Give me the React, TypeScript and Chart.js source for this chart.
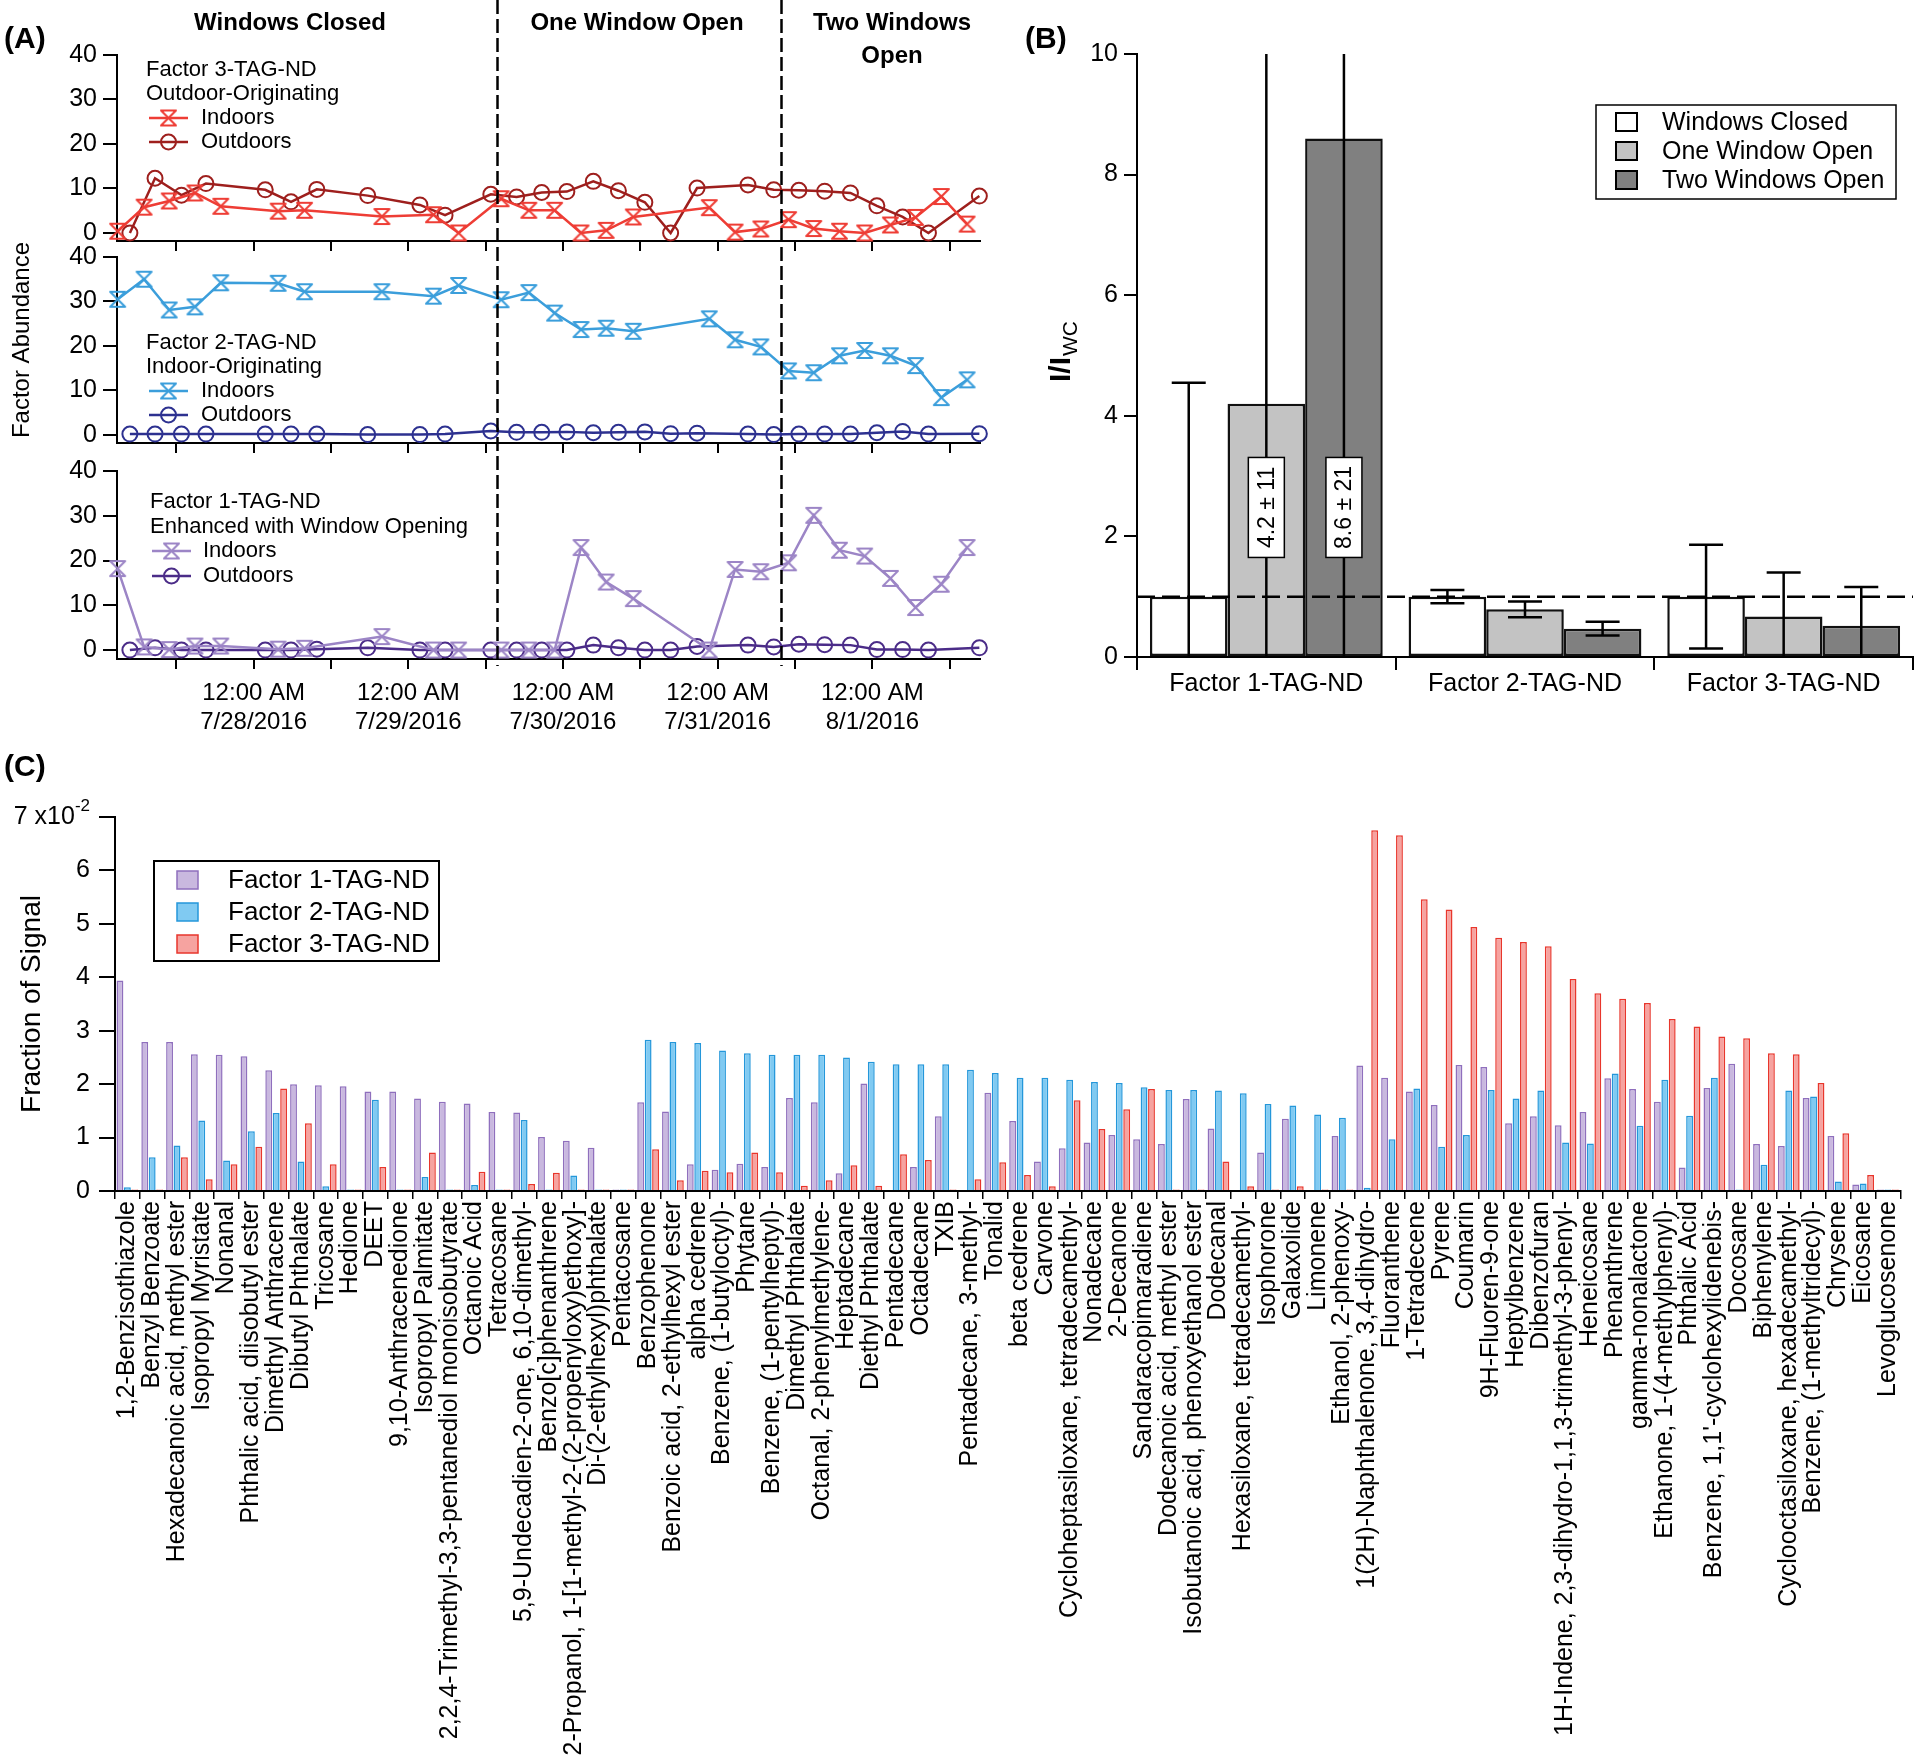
import React, { useEffect, useRef } from 'react';
import { Chart, registerables } from 'chart.js';

Chart.register(...registerables);

const FONT = '"Liberation Sans", Arial, Helvetica, sans-serif';

// ---------------- Panel A data (x = hours since 7/27/2016 00:00) ----------------
const A_TICK_HOURS = [12, 24, 36, 48, 60, 72, 84, 96, 108, 120, 132];
const A_LABEL_HOURS = [24, 48, 72, 96, 120];
const A_LABEL_DATES = ['7/28/2016', '7/29/2016', '7/30/2016', '7/31/2016', '8/1/2016'];
const A_PERIOD_BREAKS = [61.8, 105.9];
const A_X_MIN = 2.8;
const A_X_MAX = 136.7;

const INDOOR_HOURS = [2.9, 7.0, 10.9, 14.9, 18.9, 27.8, 31.9, 43.9, 51.9, 55.8, 62.4, 66.7, 70.7, 74.8, 78.7, 82.9, 94.7, 98.7, 102.7, 107.0, 110.9, 114.9, 118.8, 122.8, 126.7, 130.7, 134.7];
const OUTDOOR_HOURS = [4.8, 8.7, 12.8, 16.6, 25.8, 29.8, 33.8, 41.7, 49.8, 53.7, 60.8, 64.8, 68.7, 72.6, 76.7, 80.6, 84.7, 88.7, 92.8, 100.7, 104.7, 108.6, 112.6, 116.6, 120.7, 124.7, 128.7, 136.6];

const F3_INDOOR = [0.4, 5.8, 7.2, 9.0, 6.0, 4.9, 5.1, 3.7, 4.1, 0, 7.7, 5.1, 5.1, 0, 0.6, 3.6, 5.7, 0.2, 0.9, 3.0, 1.0, 0.4, 0, 1.8, 3.5, 8.2, 2.0];
const F3_OUTDOOR = [0, 12.3, 8.5, 11.1, 9.7, 7.0, 9.8, 8.4, 6.3, 4.0, 8.7, 8.1, 9.1, 9.3, 11.6, 9.5, 6.9, 0, 10.1, 10.8, 9.7, 9.6, 9.4, 9.0, 6.1, 3.6, 0, 8.3];
const F2_INDOOR = [30.5, 35.0, 28.1, 28.8, 34.2, 34.1, 32.2, 32.2, 31.2, 33.6, 30.4, 32.0, 27.4, 23.7, 24.0, 23.3, 26.1, 21.4, 19.8, 14.4, 14.0, 17.8, 19.0, 17.8, 15.6, 8.4, 12.4];
const F2_OUTDOOR = [0.2, 0.2, 0.2, 0.2, 0.2, 0.2, 0.2, 0.1, 0.1, 0.2, 0.9, 0.6, 0.6, 0.7, 0.5, 0.6, 0.7, 0.3, 0.4, 0.2, 0.1, 0.2, 0.2, 0.2, 0.5, 0.8, 0.2, 0.3];
const F1_INDOOR = [18.2, 0.7, 0.1, 0.9, 0.9, 0.2, 0.4, 3.0, 0, 0, 0, 0, 0, 22.9, 15.2, 11.5, 0, 18.0, 17.5, 19.5, 30.1, 22.3, 21.0, 16.0, 9.5, 14.7, 22.9];
const F1_OUTDOOR = [0, 0.5, 0, 0, 0, 0, 0.2, 0.5, 0, 0, 0, 0, 0, 0, 1.1, 0.5, 0, 0, 0.8, 1.1, 0.7, 1.3, 1.2, 1.1, 0.1, 0.1, 0, 0.5];

// ---------------- Panel B data ----------------
const B_GROUPS = ['Factor 1-TAG-ND', 'Factor 2-TAG-ND', 'Factor 3-TAG-ND'];
const B_SERIES = ['Windows Closed', 'One Window Open', 'Two Windows Open'];
const B_WC = [1, 1, 1];
const B_OWO = [4.2, 0.79, 0.67];
const B_TWO = [8.6, 0.47, 0.52];
const B_WC_ERR = [3.55, 0.11, 0.86];
const B_OWO_ERR = [11, 0.13, 0.73];
const B_TWO_ERR = [21, 0.115, 0.64];
const B_BOX_TEXT = ['4.2 ± 11', '8.6 ± 21'];

// ---------------- Panel C data (fraction of signal, units of 1e-2) ----------------
const C_COMPOUNDS = [
  '1,2-Benzisothiazole', 'Benzyl Benzoate', 'Hexadecanoic acid, methyl ester', 'Isopropyl Myristate', 'Nonanal',
  'Phthalic acid, diisobutyl ester', 'Dimethyl Anthracene', 'Dibutyl Phthalate', 'Tricosane', 'Hedione', 'DEET',
  '9,10-Anthracenedione', 'Isopropyl Palmitate', '2,2,4-Trimethyl-3,3-pentanediol monoisobutyrate', 'Octanoic Acid',
  'Tetracosane', '5,9-Undecadien-2-one, 6,10-dimethyl-', 'Benzo[c]phenanthrene',
  '2-Propanol, 1-[1-methyl-2-(2-propenyloxy)ethoxy]-', 'Di-(2-ethylhexyl)phthalate', 'Pentacosane', 'Benzophenone',
  'Benzoic acid, 2-ethylhexyl ester', 'alpha cedrene', 'Benzene, (1-butyloctyl)-', 'Phytane',
  'Benzene, (1-pentylheptyl)-', 'Dimethyl Phthalate', 'Octanal, 2-phenylmethylene-', 'Heptadecane',
  'Diethyl Phthalate', 'Pentadecane', 'Octadecane', 'TXIB', 'Pentadecane, 3-methyl-', 'Tonalid', 'beta cedrene',
  'Carvone', 'Cycloheptasiloxane, tetradecamethyl-', 'Nonadecane', '2-Decanone', 'Sandaracopimaradiene',
  'Dodecanoic acid, methyl ester', 'Isobutanoic acid, phenoxyethanol ester', 'Dodecanal',
  'Hexasiloxane, tetradecamethyl-', 'Isophorone', 'Galaxolide', 'Limonene', 'Ethanol, 2-phenoxy-',
  '1(2H)-Naphthalenone, 3,4-dihydro-', 'Fluoranthene', '1-Tetradecene', 'Pyrene', 'Coumarin', '9H-Fluoren-9-one',
  'Heptylbenzene', 'Dibenzofuran', '1H-Indene, 2,3-dihydro-1,1,3-trimethyl-3-phenyl-', 'Heneicosane',
  'Phenanthrene', 'gamma-nonalactone', 'Ethanone, 1-(4-methylphenyl)-', 'Phthalic Acid',
  "Benzene, 1,1'-cyclohexylidenebis-", 'Docosane', 'Biphenylene', 'Cyclooctasiloxane, hexadecamethyl-',
  'Benzene, (1-methyltridecyl)-', 'Chrysene', 'Eicosane', 'Levoglucosenone',
];
const C_F1 = [3.94, 2.79, 2.79, 2.56, 2.55, 2.52, 2.26, 2.00, 1.98, 1.96, 1.86, 1.86, 1.73, 1.67, 1.64, 1.48, 1.47, 1.01, 0.94, 0.81, 0.03, 1.66, 1.49, 0.50, 0.40, 0.51, 0.45, 1.74, 1.66, 0.33, 2.01, 0.02, 0.45, 1.40, 0.02, 1.84, 1.31, 0.55, 0.80, 0.91, 1.05, 0.97, 0.88, 1.72, 1.17, 0.02, 0.72, 1.35, 0.02, 1.03, 2.35, 2.12, 1.86, 1.61, 2.36, 2.32, 1.27, 1.40, 1.23, 1.48, 2.11, 1.91, 1.67, 0.44, 1.93, 2.38, 0.88, 0.84, 1.74, 1.03, 0.12, 0.03];
const C_F2 = [0.07, 0.63, 0.85, 1.32, 0.57, 1.12, 1.46, 0.55, 0.09, 0.03, 1.71, 0.03, 0.26, 0.03, 0.11, 0.03, 1.33, 0.03, 0.29, 0.03, 0.03, 2.83, 2.79, 2.77, 2.63, 2.58, 2.55, 2.55, 2.55, 2.50, 2.42, 2.37, 2.37, 2.37, 2.27, 2.21, 2.12, 2.12, 2.08, 2.04, 2.02, 1.94, 1.89, 1.89, 1.88, 1.83, 1.63, 1.60, 1.43, 1.37, 0.06, 0.97, 1.92, 0.83, 1.05, 1.89, 1.73, 1.88, 0.91, 0.89, 2.20, 1.22, 2.08, 1.41, 2.12, 0.03, 0.49, 1.88, 1.77, 0.18, 0.14, 0.03];
const C_F3 = [0.03, 0.03, 0.63, 0.22, 0.50, 0.83, 1.92, 1.27, 0.50, 0.03, 0.45, 0.03, 0.72, 0.03, 0.36, 0.03, 0.13, 0.34, 0.03, 0.03, 0.03, 0.78, 0.20, 0.38, 0.35, 0.72, 0.35, 0.10, 0.20, 0.48, 0.10, 0.69, 0.58, 0.03, 0.22, 0.54, 0.30, 0.09, 1.70, 1.16, 1.53, 1.91, 0.03, 0.03, 0.55, 0.09, 0.03, 0.09, 0.03, 0.03, 6.75, 6.66, 5.46, 5.27, 4.94, 4.74, 4.66, 4.58, 3.97, 3.70, 3.60, 3.52, 3.22, 3.08, 2.89, 2.86, 2.58, 2.56, 2.02, 1.08, 0.30, 0.03];
const C_SERIES = ['Factor 1-TAG-ND', 'Factor 2-TAG-ND', 'Factor 3-TAG-ND'];

// ---------------- colours ----------------
const COL = {
  f3In: '#ee3d35', f3Out: '#9e1f1d',
  f2In: '#3b9edb', f2Out: '#2d3190',
  f1In: '#9c85c6', f1Out: '#4b2c88',
  cFill: ['#c9b8df', '#80caf2', '#f6a3a0'],
  cLine: ['#8f6fbd', '#2497da', '#e8362c'],
  bFill: ['#ffffff', '#c3c3c3', '#808080'],
};

function hourglass(color: string) {
  const w = 15, h = 15, pad = 2;
  const c = document.createElement('canvas');
  c.width = w + pad * 2;
  c.height = h + pad * 2;
  const g = c.getContext('2d')!;
  g.strokeStyle = color;
  g.lineWidth = 2;
  g.lineJoin = 'round';
  g.beginPath();
  g.moveTo(pad, pad);
  g.lineTo(pad + w, pad);
  g.lineTo(pad, pad + h);
  g.lineTo(pad + w, pad + h);
  g.closePath();
  g.stroke();
  return c;
}

interface APanel {
  padTop: number;
  axisBottom: number;
  yMin: number;
  indoor: number[];
  outdoor: number[];
  inColor: string;
  outColor: string;
  showDates: boolean;
  legend: { x: number; lineX0: number; lineX1: number; textX: number; rows: number[]; titles: string[] };
  extra?: (chart: any) => void;
}

function makeA(canvas: HTMLCanvasElement, p: APanel) {
  const marker = hourglass(p.inColor);
  const H = 760;
  const deco = {
    id: 'adeco',
    afterDraw: (chart: any) => {
      const ctx = chart.ctx as CanvasRenderingContext2D;
      const L = p.legend;
      ctx.save();
      ctx.fillStyle = '#000';
      ctx.font = `22px ${FONT}`;
      ctx.textBaseline = 'middle';
      ctx.textAlign = 'left';
      ctx.fillText(L.titles[0], L.x, L.rows[0]);
      ctx.fillText(L.titles[1], L.x, L.rows[1]);
      // Indoors row
      ctx.strokeStyle = p.inColor;
      ctx.lineWidth = 2.5;
      ctx.beginPath();
      ctx.moveTo(L.lineX0, L.rows[2]);
      ctx.lineTo(L.lineX1, L.rows[2]);
      ctx.stroke();
      const mx = (L.lineX0 + L.lineX1) / 2;
      ctx.drawImage(marker, mx - marker.width / 2, L.rows[2] - marker.height / 2);
      ctx.fillText('Indoors', L.textX, L.rows[2]);
      // Outdoors row
      ctx.strokeStyle = p.outColor;
      ctx.beginPath();
      ctx.moveTo(L.lineX0, L.rows[3]);
      ctx.lineTo(L.lineX1, L.rows[3]);
      ctx.stroke();
      ctx.lineWidth = 2;
      ctx.beginPath();
      ctx.arc(mx, L.rows[3], 7.5, 0, Math.PI * 2);
      ctx.stroke();
      ctx.fillText('Outdoors', L.textX, L.rows[3]);
      ctx.restore();
      if (p.extra) p.extra(chart);
    },
  };
  return new Chart(canvas, {
    type: 'line',
    data: {
      datasets: [
        {
          data: INDOOR_HOURS.map((h, i) => ({ x: h, y: p.indoor[i] })),
          borderColor: p.inColor,
          borderWidth: 2.5,
          pointStyle: marker as any,
          pointRadius: 8,
          tension: 0,
          clip: false as any,
        },
        {
          data: OUTDOOR_HOURS.map((h, i) => ({ x: h, y: p.outdoor[i] })),
          borderColor: p.outColor,
          borderWidth: 2.5,
          pointStyle: 'circle',
          pointRadius: 7.5,
          pointBorderWidth: 2,
          pointBorderColor: p.outColor,
          pointBackgroundColor: 'rgba(255,255,255,0)',
          tension: 0,
          clip: false as any,
        },
      ],
    },
    options: {
      responsive: false,
      animation: false,
      devicePixelRatio: 1,
      events: [],
      layout: { padding: { top: p.padTop, left: 0, right: 20, bottom: 0 } },
      plugins: { legend: { display: false }, tooltip: { enabled: false } },
      scales: {
        x: {
          type: 'linear',
          min: A_X_MIN,
          max: A_X_MAX,
          afterFit: (s: any) => { s.height = H - p.axisBottom; },
          afterBuildTicks: (s: any) => { s.ticks = A_TICK_HOURS.map((v) => ({ value: v })); },
          ticks: {
            autoSkip: false,
            maxRotation: 0,
            minRotation: 0,
            padding: 10,
            color: '#000',
            font: { family: FONT, size: 24, lineHeight: 1.2 },
            callback: (v: any) => {
              if (!p.showDates) return '';
              const k = A_LABEL_HOURS.indexOf(Number(v));
              return k >= 0 ? ['12:00 AM', A_LABEL_DATES[k]] : '';
            },
          },
          grid: { drawOnChartArea: false, drawTicks: true, tickLength: 10, color: '#000', lineWidth: 2 },
          border: { display: true, color: '#000', width: 2 },
        },
        y: {
          min: p.yMin,
          max: 40,
          afterFit: (s: any) => { s.width = 117; },
          afterBuildTicks: (s: any) => { s.ticks = [0, 10, 20, 30, 40].map((v) => ({ value: v })); },
          ticks: { padding: 6, color: '#000', font: { family: FONT, size: 25 } },
          grid: { drawOnChartArea: false, drawTicks: true, tickLength: 14, color: '#000', lineWidth: 2 },
          border: { display: true, color: '#000', width: 2 },
        },
      },
    } as any,
    plugins: [deco],
  });
}

function drawAGlobal(chart: any) {
  const ctx = chart.ctx as CanvasRenderingContext2D;
  const xs = chart.scales.x;
  ctx.save();
  // period separators
  ctx.strokeStyle = '#000';
  ctx.lineWidth = 2.5;
  ctx.setLineDash([14, 5]);
  A_PERIOD_BREAKS.forEach((h) => {
    const x = Math.round(xs.getPixelForValue(h)) + 0.5;
    ctx.beginPath();
    ctx.moveTo(x, 0);
    ctx.lineTo(x, 666);
    ctx.stroke();
  });
  ctx.setLineDash([]);
  // period titles
  ctx.fillStyle = '#000';
  ctx.font = `bold 24px ${FONT}`;
  ctx.textAlign = 'center';
  ctx.textBaseline = 'middle';
  ctx.fillText('Windows Closed', 290, 23);
  ctx.fillText('One Window Open', 637, 23);
  ctx.fillText('Two Windows', 892, 23);
  ctx.fillText('Open', 892, 56);
  // panel letter
  ctx.font = `bold 30px ${FONT}`;
  ctx.textAlign = 'left';
  ctx.fillText('(A)', 4, 40);
  // y title
  ctx.translate(22, 340);
  ctx.rotate(-Math.PI / 2);
  ctx.font = `24px ${FONT}`;
  ctx.textAlign = 'center';
  ctx.fillText('Factor Abundance', 0, 0);
  ctx.restore();
}

function makeB(canvas: HTMLCanvasElement) {
  const vals = [B_WC, B_OWO, B_TWO];
  const errs = [B_WC_ERR, B_OWO_ERR, B_TWO_ERR];
  const deco = {
    id: 'bdeco',
    afterDraw: (chart: any) => {
      const ctx = chart.ctx as CanvasRenderingContext2D;
      const ys = chart.scales.y;
      const area = chart.chartArea;
      ctx.save();
      // error bars
      ctx.strokeStyle = '#000';
      ctx.lineWidth = 2.5;
      for (let d = 0; d < 3; d++) {
        const meta = chart.getDatasetMeta(d);
        meta.data.forEach((el: any, i: number) => {
          const hi = vals[d][i] + errs[d][i];
          const lo = vals[d][i] - errs[d][i];
          const hiC = Math.min(hi, ys.max);
          const loC = Math.max(lo, ys.min);
          const yh = ys.getPixelForValue(hiC);
          const yl = ys.getPixelForValue(loC);
          ctx.beginPath();
          ctx.moveTo(el.x, yh);
          ctx.lineTo(el.x, yl);
          if (hi <= ys.max) { ctx.moveTo(el.x - 17, yh); ctx.lineTo(el.x + 17, yh); }
          if (lo >= ys.min) { ctx.moveTo(el.x - 17, yl); ctx.lineTo(el.x + 17, yl); }
          ctx.stroke();
        });
      }
      // reference line at 1
      const y1 = ys.getPixelForValue(1);
      ctx.setLineDash([18, 7]);
      ctx.beginPath();
      ctx.moveTo(area.left, y1);
      ctx.lineTo(area.right, y1);
      ctx.stroke();
      ctx.setLineDash([]);
      // value boxes on factor 1 bars
      [1, 2].forEach((d, k) => {
        const el = chart.getDatasetMeta(d).data[0];
        const cy = ys.getPixelForValue(2.48);
        const bw = 36, bh = 100;
        ctx.fillStyle = '#fff';
        ctx.fillRect(el.x - bw / 2, cy - bh / 2, bw, bh);
        ctx.lineWidth = 1.5;
        ctx.strokeRect(el.x - bw / 2, cy - bh / 2, bw, bh);
        ctx.save();
        ctx.translate(el.x, cy);
        ctx.rotate(-Math.PI / 2);
        ctx.fillStyle = '#000';
        ctx.font = `23px ${FONT}`;
        ctx.textAlign = 'center';
        ctx.textBaseline = 'middle';
        ctx.fillText(B_BOX_TEXT[k], 0, 1);
        ctx.restore();
      });
      // legend
      ctx.lineWidth = 1.5;
      ctx.strokeStyle = '#000';
      ctx.fillStyle = '#fff';
      ctx.fillRect(596, 105, 300, 94);
      ctx.strokeRect(596, 105, 300, 94);
      const rows = [122, 151, 180];
      B_SERIES.forEach((s, i) => {
        ctx.fillStyle = COL.bFill[i];
        ctx.fillRect(616, rows[i] - 9, 21, 18);
        ctx.lineWidth = 2;
        ctx.strokeRect(616, rows[i] - 9, 21, 18);
        ctx.fillStyle = '#000';
        ctx.font = `25px ${FONT}`;
        ctx.textAlign = 'left';
        ctx.textBaseline = 'middle';
        ctx.fillText(s, 662, rows[i] + 1);
      });
      // panel letter
      ctx.font = `bold 30px ${FONT}`;
      ctx.fillText('(B)', 25, 40);
      // y title I/I_WC
      ctx.save();
      ctx.translate(70, 352);
      ctx.rotate(-Math.PI / 2);
      ctx.font = `bold 30px ${FONT}`;
      const w1 = ctx.measureText('I/I').width;
      ctx.font = `21px ${FONT}`;
      const w2 = ctx.measureText('WC').width;
      const x0 = -(w1 + w2) / 2;
      ctx.textBaseline = 'alphabetic';
      ctx.textAlign = 'left';
      ctx.font = `bold 30px ${FONT}`;
      ctx.fillText('I/I', x0, 0);
      ctx.font = `21px ${FONT}`;
      ctx.fillText('WC', x0 + w1 + 1, 7);
      ctx.restore();
      ctx.restore();
    },
  };
  return new Chart(canvas, {
    type: 'bar',
    data: {
      labels: B_GROUPS,
      datasets: [B_WC, B_OWO, B_TWO].map((d, i) => ({
        label: B_SERIES[i],
        data: d,
        backgroundColor: COL.bFill[i],
        borderColor: '#111',
        borderWidth: 2.5,
        borderSkipped: false,
      })),
    },
    options: {
      responsive: false,
      animation: false,
      devicePixelRatio: 1,
      events: [],
      layout: { padding: { top: 54, left: 0, right: 7, bottom: 0 } },
      datasets: { bar: { categoryPercentage: 0.9, barPercentage: 1.0 } },
      plugins: { legend: { display: false }, tooltip: { enabled: false } },
      scales: {
        x: {
          afterFit: (s: any) => { s.height = 103; },
          ticks: { padding: -1, color: '#000', font: { family: FONT, size: 25 } },
          grid: { drawOnChartArea: false, tickLength: 13, color: '#000', lineWidth: 2, offset: true },
          border: { display: true, color: '#000', width: 2 },
        },
        y: {
          min: 0,
          max: 10,
          afterFit: (s: any) => { s.width = 137; },
          ticks: { stepSize: 2, padding: 6, color: '#000', font: { family: FONT, size: 25 } },
          grid: { drawOnChartArea: false, tickLength: 13, color: '#000', lineWidth: 2 },
          border: { display: true, color: '#000', width: 2 },
        },
      },
    } as any,
    plugins: [deco],
  });
}

function makeC(canvas: HTMLCanvasElement) {
  const deco = {
    id: 'cdeco',
    afterDraw: (chart: any) => {
      const ctx = chart.ctx as CanvasRenderingContext2D;
      const ys = chart.scales.y;
      ctx.save();
      ctx.fillStyle = '#000';
      // top tick label 7 x10^-2
      const py = ys.getPixelForValue(7);
      ctx.font = `17px ${FONT}`;
      const supW = ctx.measureText('-2').width;
      const right = 90;
      ctx.font = `25px ${FONT}`;
      ctx.textAlign = 'right';
      ctx.textBaseline = 'middle';
      ctx.fillText('7 x10', right - supW, py);
      ctx.font = `17px ${FONT}`;
      ctx.textAlign = 'left';
      ctx.fillText('-2', right - supW, py - 11);
      // panel letter
      ctx.font = `bold 30px ${FONT}`;
      ctx.fillText('(C)', 4, 28);
      // legend
      ctx.fillStyle = '#fff';
      ctx.fillRect(154, 121, 285, 100);
      ctx.strokeStyle = '#000';
      ctx.lineWidth = 2;
      ctx.strokeRect(154, 121, 285, 100);
      const rows = [140, 172, 204];
      C_SERIES.forEach((s, i) => {
        ctx.fillStyle = COL.cFill[i];
        ctx.fillRect(177, rows[i] - 9, 21, 18);
        ctx.strokeStyle = COL.cLine[i];
        ctx.lineWidth = 1.5;
        ctx.strokeRect(177, rows[i] - 9, 21, 18);
        ctx.fillStyle = '#000';
        ctx.font = `26px ${FONT}`;
        ctx.textAlign = 'left';
        ctx.textBaseline = 'middle';
        ctx.fillText(s, 228, rows[i] + 1);
      });
      // y title
      ctx.translate(32, 264);
      ctx.rotate(-Math.PI / 2);
      ctx.fillStyle = '#000';
      ctx.font = `28px ${FONT}`;
      ctx.textAlign = 'center';
      ctx.textBaseline = 'middle';
      ctx.fillText('Fraction of Signal', 0, 0);
      ctx.restore();
    },
  };
  return new Chart(canvas, {
    type: 'bar',
    data: {
      labels: C_COMPOUNDS,
      datasets: [C_F1, C_F2, C_F3].map((d, i) => ({
        label: C_SERIES[i],
        data: d,
        backgroundColor: COL.cFill[i],
        borderColor: COL.cLine[i],
        borderWidth: 1.5,
      })),
    },
    options: {
      responsive: false,
      animation: false,
      devicePixelRatio: 1,
      events: [],
      layout: { padding: { top: 77, left: 0, right: 7, bottom: 0 } },
      datasets: { bar: { categoryPercentage: 0.9, barPercentage: 0.92 } },
      plugins: { legend: { display: false }, tooltip: { enabled: false } },
      scales: {
        x: {
          afterFit: (s: any) => { s.height = 573; },
          ticks: { autoSkip: false, minRotation: 90, maxRotation: 90, padding: 2, color: '#000', font: { family: FONT, size: 25 } },
          grid: { drawOnChartArea: false, tickLength: 8, color: '#000', lineWidth: 1.5, offset: true },
          border: { display: true, color: '#000', width: 2 },
        },
        y: {
          min: 0,
          max: 7,
          afterFit: (s: any) => { s.width = 115; },
          ticks: { stepSize: 1, padding: 9, color: '#000', font: { family: FONT, size: 25 }, callback: (v: any) => (Number(v) === 7 ? '' : String(v)) },
          grid: { drawOnChartArea: false, tickLength: 16, color: '#000', lineWidth: 2 },
          border: { display: true, color: '#000', width: 2 },
        },
      },
    } as any,
    plugins: [deco],
  });
}

export default function App() {
  const a1 = useRef<HTMLCanvasElement>(null);
  const a2 = useRef<HTMLCanvasElement>(null);
  const a3 = useRef<HTMLCanvasElement>(null);
  const b = useRef<HTMLCanvasElement>(null);
  const c = useRef<HTMLCanvasElement>(null);

  useEffect(() => {
    document.body.style.margin = '0';
    const charts: Chart[] = [];
    charts.push(makeA(a1.current!, {
      padTop: 55, axisBottom: 241, yMin: -1.8,
      indoor: F3_INDOOR, outdoor: F3_OUTDOOR, inColor: COL.f3In, outColor: COL.f3Out, showDates: false,
      legend: { x: 146, lineX0: 149, lineX1: 188, textX: 201, rows: [70, 94, 118, 142], titles: ['Factor 3-TAG-ND', 'Outdoor-Originating'] },
    }));
    charts.push(makeA(a2.current!, {
      padTop: 257, axisBottom: 443, yMin: -1.8,
      indoor: F2_INDOOR, outdoor: F2_OUTDOOR, inColor: COL.f2In, outColor: COL.f2Out, showDates: false,
      legend: { x: 146, lineX0: 149, lineX1: 188, textX: 201, rows: [343, 367, 391, 415], titles: ['Factor 2-TAG-ND', 'Indoor-Originating'] },
    }));
    charts.push(makeA(a3.current!, {
      padTop: 471, axisBottom: 659, yMin: -2,
      indoor: F1_INDOOR, outdoor: F1_OUTDOOR, inColor: COL.f1In, outColor: COL.f1Out, showDates: true,
      legend: { x: 150, lineX0: 152, lineX1: 191, textX: 203, rows: [502, 527, 551, 576], titles: ['Factor 1-TAG-ND', 'Enhanced with Window Opening'] },
      extra: drawAGlobal,
    }));
    charts.push(makeB(b.current!));
    charts.push(makeC(c.current!));
    return () => { charts.forEach((ch) => ch.destroy()); };
  }, []);

  const abs = (l: number, t: number): React.CSSProperties => ({ position: 'absolute', left: l, top: t });
  return (
    <div style={{ position: 'relative', width: 1920, height: 1764, background: '#fff', overflow: 'hidden' }}>
      <canvas ref={a1} width={1000} height={760} style={abs(0, 0)} />
      <canvas ref={a2} width={1000} height={760} style={abs(0, 0)} />
      <canvas ref={a3} width={1000} height={760} style={abs(0, 0)} />
      <canvas ref={b} width={920} height={760} style={abs(1000, 0)} />
      <canvas ref={c} width={1920} height={1024} style={abs(0, 740)} />
    </div>
  );
}
